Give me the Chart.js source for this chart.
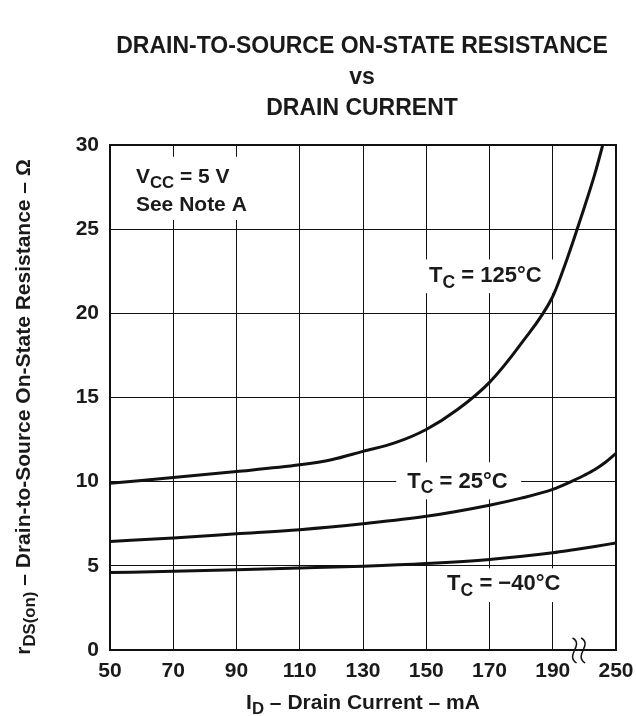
<!DOCTYPE html>
<html>
<head>
<meta charset="utf-8">
<script src="https://cdn.jsdelivr.net/npm/chart.js@4.4.0/dist/chart.umd.min.js"></script>
<style>
  html, body { margin: 0; padding: 0; background: #fff; }
  #wrap { width: 636px; height: 716px; }
</style>
</head>
<body>
<div id="wrap"><canvas id="rdsChart" width="636" height="716"></canvas></div>
<script>
// Drain current (mA) and rDS(on) (ohm)
const current125 = [50, 70, 90, 110, 120, 130, 140, 150, 160, 170, 180, 190, 200, 210, 220, 230, 240];
const rds125 = [9.9, 10.25, 10.6, 11.0, 11.3, 11.8, 12.3, 13.1, 14.3, 15.9, 18.2, 21.0, 22.6, 24.4, 26.3, 28.3, 30.6];

const current25 = [50, 70, 90, 110, 130, 150, 170, 180, 190, 200, 210, 220, 230, 240, 250];
const rds25 = [6.45, 6.65, 6.9, 7.15, 7.5, 7.94, 8.6, 9.02, 9.54, 9.8, 10.08, 10.38, 10.72, 11.15, 11.68];

const currentM40 = [50, 70, 90, 110, 130, 150, 170, 190, 210, 230, 250];
const rdsM40 = [4.6, 4.68, 4.77, 4.87, 4.98, 5.14, 5.38, 5.78, 5.96, 6.15, 6.36];

const xTickValues = [50, 70, 90, 110, 130, 150, 170, 190, 250];

// axis is broken after 190 mA: 190..250 squeezed into one grid division
function axisPos(mA) {
    return mA <= 190 ? mA : 190 + (mA - 190) / 3;
}

function toPoints(xs, ys) {
    return xs.map((x, i) => ({ x: axisPos(x), y: ys[i] }));
}

const FONT = '"Liberation Sans", Arial, Helvetica, sans-serif';

// draw text made of pieces, some of them subscripts
function richText(ctx, parts, x, y, size, align) {
    let total = 0;
    parts.forEach(p => {
        ctx.font = 'bold ' + (p.sub ? size * 0.8 : size) + 'px ' + FONT;
        total += ctx.measureText(p.t).width;
    });
    let cx = align === 'center' ? x - total / 2 : x;
    ctx.textAlign = 'left';
    ctx.textBaseline = 'middle';
    parts.forEach(p => {
        ctx.font = 'bold ' + (p.sub ? size * 0.8 : size) + 'px ' + FONT;
        ctx.fillText(p.t, cx, p.sub ? y + size * 0.3 : y);
        cx += ctx.measureText(p.t).width;
    });
}

// white boxes behind the labels, in axis units [x1, x2, y1, y2]
const labelBoxes = [
    [54.7, 95.7, 25.55, 29.3],
    [146, 190.5, 21.2, 23.2],
    [140.5, 180, 8.95, 11.15],
    [152.5, 204.5, 2.85, 4.85]
];

const decorations = {
    id: 'decorations',
    beforeDatasetsDraw(chart) {
        const ctx = chart.ctx;
        const xs = chart.scales.x, ys = chart.scales.y;
        ctx.save();
        ctx.fillStyle = '#fff';
        labelBoxes.forEach(b => {
            const x1 = xs.getPixelForValue(b[0]), x2 = xs.getPixelForValue(b[1]);
            const y1 = ys.getPixelForValue(b[3]), y2 = ys.getPixelForValue(b[2]);
            ctx.fillRect(x1, y1, x2 - x1, y2 - y1);
        });
        ctx.restore();
    },
    afterDraw(chart) {
        const ctx = chart.ctx;
        const a = chart.chartArea;
        const xs = chart.scales.x, ys = chart.scales.y;
        ctx.save();

        // frame
        ctx.strokeStyle = '#111';
        ctx.lineWidth = 2;
        ctx.strokeRect(a.left, a.top, a.right - a.left, a.bottom - a.top);

        ctx.fillStyle = '#1a1a1a';

        // title
        ctx.font = 'bold 23px ' + FONT;
        ctx.textAlign = 'center';
        ctx.textBaseline = 'middle';
        ctx.fillText('DRAIN-TO-SOURCE ON-STATE RESISTANCE', 362, 47);
        ctx.fillText('vs', 362, 78);
        ctx.fillText('DRAIN CURRENT', 362, 109);

        // curve labels
        richText(ctx, [{ t: 'V' }, { t: 'CC', sub: true }, { t: ' = 5 V' }],
            xs.getPixelForValue(58.2), ys.getPixelForValue(28.1), 21, 'left');
        richText(ctx, [{ t: 'See Note A' }],
            xs.getPixelForValue(58.2), ys.getPixelForValue(26.4), 21, 'left');
        richText(ctx, [{ t: 'T' }, { t: 'C', sub: true }, { t: ' = 125°C' }],
            xs.getPixelForValue(150.9), ys.getPixelForValue(22.2), 22, 'left');
        richText(ctx, [{ t: 'T' }, { t: 'C', sub: true }, { t: ' = 25°C' }],
            xs.getPixelForValue(144), ys.getPixelForValue(10.0), 22, 'left');
        richText(ctx, [{ t: 'T' }, { t: 'C', sub: true }, { t: ' = \u221240°C' }],
            xs.getPixelForValue(156.6), ys.getPixelForValue(3.9), 22, 'left');

        // axis titles
        richText(ctx, [{ t: 'I' }, { t: 'D', sub: true }, { t: ' \u2013 Drain Current \u2013 mA' }],
            (a.left + a.right) / 2, 703, 21, 'center');
        ctx.save();
        ctx.translate(24, 407);
        ctx.rotate(-Math.PI / 2);
        richText(ctx, [{ t: 'r' }, { t: 'DS(on)', sub: true },
            { t: ' \u2013 Drain-to-Source On-State Resistance \u2013 \u03A9' }], 0, 0, 21, 'center');
        ctx.restore();

        // axis break marks
        ctx.strokeStyle = '#111';
        ctx.lineWidth = 1.5;
        [196.9, 199.6].forEach(v => {
            const px = xs.getPixelForValue(v);
            const yb = a.bottom;
            ctx.beginPath();
            ctx.moveTo(px - 2, yb - 12);
            ctx.bezierCurveTo(px + 10, yb - 5, px - 10, yb + 5, px + 2, yb + 13);
            ctx.stroke();
        });
        ctx.restore();
    }
};

const lineStyle = {
    borderColor: '#111',
    borderWidth: 3,
    pointRadius: 0,
    fill: false,
    cubicInterpolationMode: 'monotone'
};

const ctx = document.getElementById('rdsChart').getContext('2d');
const rdsChart = new Chart(ctx, {
    type: 'line',
    data: {
        datasets: [
            Object.assign({ label: 'TC = 125°C', data: toPoints(current125, rds125) }, lineStyle),
            Object.assign({ label: 'TC = 25°C', data: toPoints(current25, rds25) }, lineStyle),
            Object.assign({ label: 'TC = -40°C', data: toPoints(currentM40, rdsM40) }, lineStyle)
        ]
    },
    options: {
        responsive: false,
        animation: false,
        layout: { padding: { top: 145, right: 20, left: 0, bottom: 0 } },
        plugins: {
            legend: { display: false },
            tooltip: { enabled: false }
        },
        scales: {
            x: {
                type: 'linear',
                min: 50,
                max: 210,
                afterBuildTicks: scale => {
                    scale.ticks = xTickValues.map(v => ({ value: axisPos(v) }));
                },
                ticks: {
                    callback: (v) => v === 210 ? '250' : String(v),
                    font: { family: FONT, size: 21, weight: 'bold' },
                    color: '#1a1a1a',
                    maxRotation: 0,
                    padding: 9
                },
                grid: { color: '#111', lineWidth: 1, drawTicks: false },
                border: { color: '#111', width: 2 },
                afterFit: scale => {
                    scale.height = 66;
                    scale.paddingRight = 0;
                    scale.paddingLeft = 0;
                }
            },
            y: {
                min: 0,
                max: 30,
                ticks: {
                    stepSize: 5,
                    font: { family: FONT, size: 21, weight: 'bold' },
                    color: '#1a1a1a',
                    padding: 11
                },
                grid: { color: '#111', lineWidth: 1, drawTicks: false },
                border: { color: '#111', width: 2 },
                afterFit: scale => {
                    scale.width = 110;
                    scale.paddingTop = 0;
                    scale.paddingBottom = 0;
                }
            }
        }
    },
    plugins: [decorations]
});
</script>
</body>
</html>
